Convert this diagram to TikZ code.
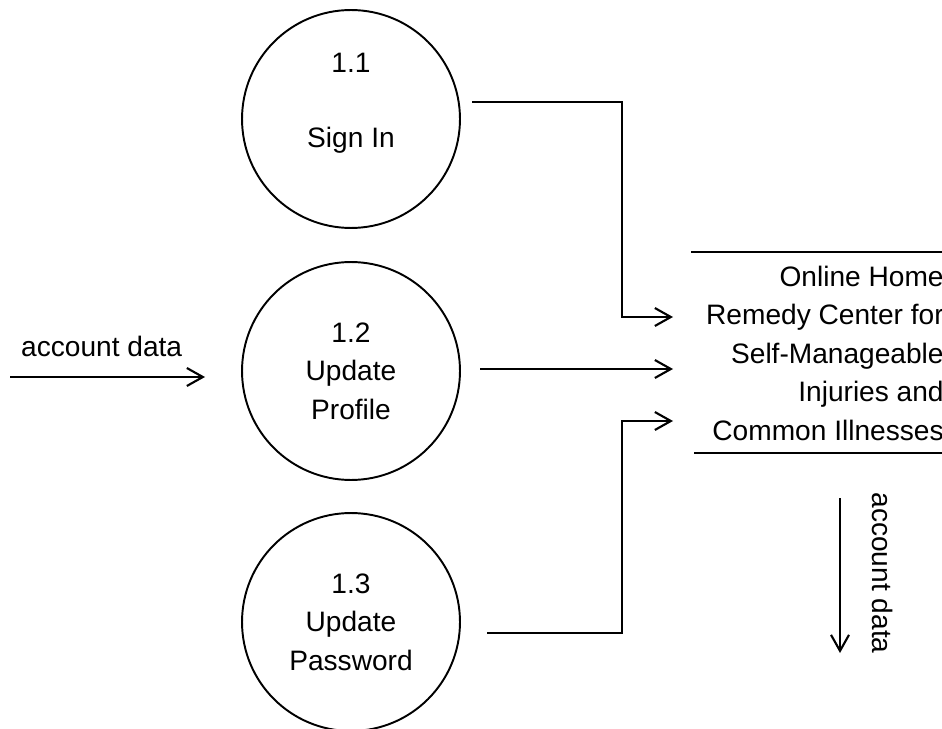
\documentclass[tikz,border=0pt]{standalone}
\usepackage{fontspec}
\setmainfont{Liberation Sans}
\usetikzlibrary{arrows.meta}

\begin{document}
\begin{tikzpicture}[x=0.02cm, y=-0.02cm,
    proc/.style={draw, circle, line width=1.1pt, minimum size=4.36cm, inner sep=0pt, align=center},
    flow/.style={line width=1.1pt, -{Straight Barb[length=0.32cm, width=0.36cm, line width=1.2pt]}},
    txt/.style={font=\fontsize{16pt}{21.9pt}\selectfont, inner sep=0pt, align=center}]
  \useasboundingbox (0, 0) rectangle (942, 729);

  % processes
  \node[proc] (p1) at (351, 119) {};
  \node[txt] (p1id) at (351, 63) {1.1};
  \node[txt] (p1name) at (351, 140) {Sign In};
  \node[proc, txt] (p2) at (351, 371) {1.2\\Update\\Profile};
  \node[proc, txt] (p3) at (351, 622) {1.3\\Update\\Password};

  % data store
  \draw[line width=1.1pt] (691, 252) -- (942, 252);
  \draw[line width=1.1pt] (694, 453) -- (942, 453);
  \node[txt, align=right, anchor=east] (store) at (944, 353)
    {Online Home\\Remedy Center for\\Self-Manageable\\Injuries and\\Common Illnesses};

  \coordinate (out1) at (472, 102);
  \coordinate (out2) at (480, 369);
  \coordinate (out3) at (487, 633);
  \coordinate (in1) at (673, 317);
  \coordinate (in2) at (673, 369);
  \coordinate (in3) at (673, 421);

  \draw[flow] (out1) -| (622, 317) -- (in1);
  \draw[flow] (out2) -- (in2);
  \draw[flow] (out3) -| (622, 421) -- (in3);

  % account data in / out
  \coordinate (src) at (10, 377);
  \coordinate (dst) at (205, 377);
  \draw[flow] (src) -- (dst) node[txt, pos=0.47, above=0.42cm, anchor=base] (lblin) {account data};
  \coordinate (down1) at (840, 498);
  \coordinate (down2) at (840, 653);
  \draw[flow] (down1) -- (down2);
  \node[txt, rotate=-90] (lblout) at (883, 573) {account data};
\end{tikzpicture}
\end{document}
